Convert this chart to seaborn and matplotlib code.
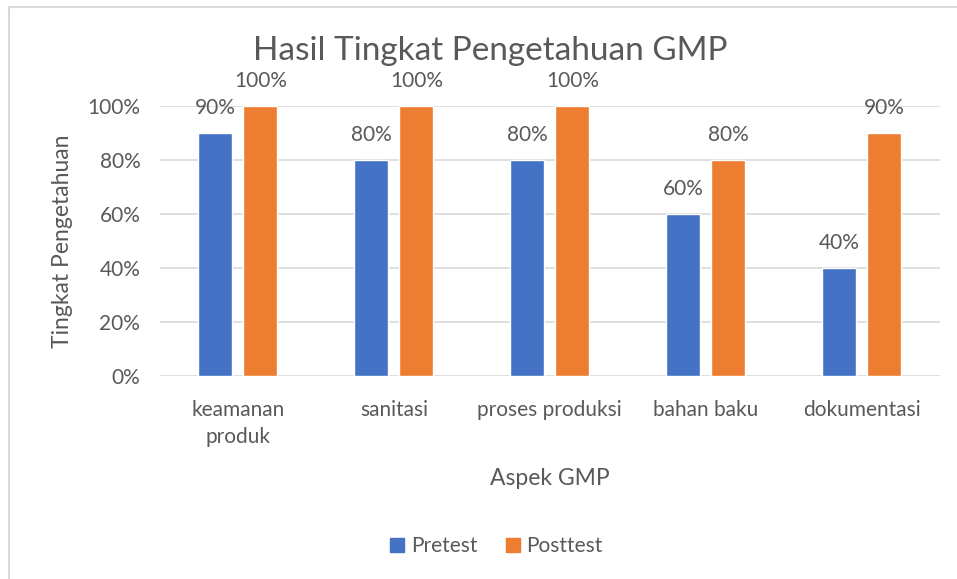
import matplotlib.pyplot as plt
import seaborn as sns
import pandas as pd
from matplotlib.lines import Line2D

categories = ['keamanan\nproduk', 'sanitasi', 'proses produksi', 'bahan baku', 'dokumentasi']
pretest = [0.9, 0.8, 0.8, 0.6, 0.4]
posttest = [1.0, 1.0, 1.0, 0.8, 0.9]
y_ticks = [0, 0.2, 0.4, 0.6, 0.8, 1.0]

sns.set_theme(style='white')
plt.rcParams['font.family'] = ['Lato', 'DejaVu Sans']

text_color = '#595959'
grid_color = '#D9D9D9'
palette = {'Pretest': '#4472C4', 'Posttest': '#ED7D31'}

df = pd.DataFrame({
    'aspek': categories * 2,
    'nilai': pretest + posttest,
    'tes': ['Pretest'] * len(categories) + ['Posttest'] * len(categories),
})

fig = plt.figure(figsize=(9.57, 5.79), dpi=100)
ax = fig.add_axes([0.167, 0.3506, 0.815, 0.4663])

sns.barplot(data=df, x='aspek', y='nilai', hue='tes', palette=palette,
            width=0.577, gap=0.243, saturation=1, ax=ax, legend=False, zorder=3)

ax.set_ylim(0, 1)
ax.set_xlim(-0.5, len(categories) - 0.5)
ax.set_yticks(y_ticks)
ax.set_yticklabels([f'{int(round(t * 100))}%' for t in y_ticks])
for t in y_ticks:
    ax.axhline(t, color=grid_color, lw=1.2, zorder=1)
for s in ax.spines.values():
    s.set_visible(False)
ax.tick_params(axis='both', length=0, labelsize=15, colors=text_color)
ax.tick_params(axis='x', pad=17)
ax.tick_params(axis='y', pad=14)
for lab in ax.get_xticklabels():
    lab.set_linespacing(1.45)

for cont in ax.containers:
    ax.bar_label(cont, labels=[f'{int(round(v * 100))}%' for v in cont.datavalues],
                 padding=11, fontsize=15, color=text_color, clip_on=False)

ax.set_xlabel('Aspek GMP', fontsize=16.5, color=text_color, labelpad=15)
ax.set_ylabel('Tingkat Pengetahuan', fontsize=16.5, color=text_color, labelpad=10)
fig.text(0.512, 0.912, 'Hasil Tingkat Pengetahuan GMP', ha='center', va='center',
         fontsize=24, color=text_color)

handles = [Line2D([0], [0], marker='s', linestyle='', markersize=10,
                  markerfacecolor=c, markeredgecolor=c) for c in palette.values()]
fig.legend(handles, list(palette.keys()), loc='center', bbox_to_anchor=(0.517, 0.057),
           ncol=2, frameon=False, fontsize=15, labelcolor=text_color,
           handletextpad=0.15, columnspacing=1.2, handlelength=1)

# outer chart border
fig.add_artist(Line2D([0.0094, 0.0094], [0, 0.988], transform=fig.transFigure,
                      color=grid_color, lw=1.5))
fig.add_artist(Line2D([0.0094, 1], [0.988, 0.988], transform=fig.transFigure,
                      color=grid_color, lw=1.5))

fig.savefig('out.png', dpi=100)
